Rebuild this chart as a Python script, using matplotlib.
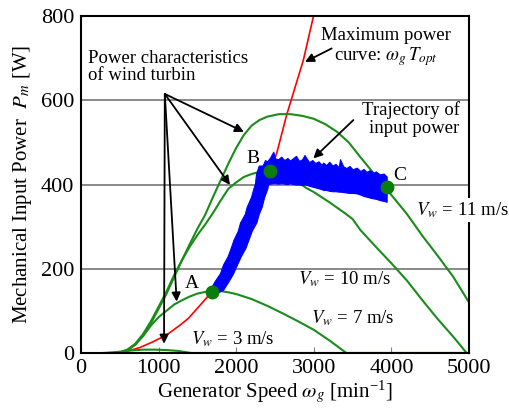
import matplotlib
matplotlib.use("Agg")
import matplotlib.pyplot as plt

plt.rcParams['font.family'] = ['Liberation Serif', 'DejaVu Serif']
plt.rcParams['mathtext.fontset'] = 'stix'

# ---------------- data ----------------
rpm_11 = [500, 600, 700, 800, 900, 1000, 1100, 1200, 1300, 1400, 1500, 1600, 1700, 1800,
          1900, 2000, 2100, 2200, 2300, 2400, 2550, 2700, 2850, 3000, 3150, 3300, 3450,
          3600, 3800, 4000, 4200, 4400, 4600, 4800, 5000]
pw_11 = [0, 6, 20, 42, 70, 105, 140, 180, 220, 258, 295, 328, 370, 410,
         450, 487, 518, 540, 553, 561, 567, 567, 563, 556, 543, 525, 500,
         465, 420, 375, 330, 278, 230, 180, 120]

rpm_10 = [480, 600, 700, 800, 900, 1000, 1100, 1200, 1300, 1400, 1500, 1600, 1700, 1800,
          1900, 2000, 2100, 2200, 2300, 2450, 2600, 2750, 2900, 3000, 3200, 3400, 3500,
          3600, 3800, 4000, 4200, 4400, 4600, 4800, 4970, 5000]
pw_10 = [0, 8, 22, 45, 75, 110, 145, 185, 220, 252, 280, 305, 332, 362,
         390, 405, 418, 425, 430, 432, 427, 412, 392, 382, 358, 332, 318,
         292, 252, 213, 172, 125, 80, 38, 0, 0]

rpm_7 = [480, 600, 700, 800, 900, 1000, 1100, 1200, 1300, 1400, 1500, 1600, 1700,
         1800, 1900, 2000, 2200, 2400, 2600, 2800, 3000, 3200, 3420, 5000]
pw_7 = [0, 8, 20, 40, 65, 85, 100, 115, 125, 134, 141, 145, 147,
        147, 144, 140, 128, 112, 94, 75, 55, 30, 0, 0]

rpm_3 = [280, 380, 500, 650, 800, 950, 1100, 1250, 1420, 5000]
pw_3 = [0, 1, 3, 6, 8, 8, 7, 5, 0, 0]

rpm_max = [0, 300, 500, 650, 760, 932, 1104, 1275, 1383, 1576, 1684, 1900, 2100,
           2300, 2435, 2522, 2650, 2865, 2994, 3050]
pw_max = [0, 0, 2, 7, 13, 27, 43, 66, 82, 122, 145, 210, 280,
          370, 431, 474, 565, 695, 798, 850]

# rising part of the input-power trajectory (band edges vs power)
rise_pw = [140, 150, 170, 189, 210, 230, 250, 268, 290, 310, 330, 347, 370, 390, 403, 425, 445]
rise_left = [1640, 1662, 1720, 1790, 1830, 1890, 1930, 1963, 2020, 2050, 2110, 2135,
             2190, 2220, 2242, 2255, 2290]
rise_right = [1720, 1830, 1900, 1960, 2010, 2060, 2120, 2156, 2200, 2260, 2290, 2328,
              2360, 2400, 2414, 2460, 2500]

# flat part of the trajectory (band edges vs speed)
flat_rpm = [2330, 2371, 2400, 2440, 2478, 2500, 2540, 2580, 2620, 2660, 2693, 2730,
            2770, 2810, 2850, 2880, 2908, 2940, 2980, 3020, 3060, 3100, 3123, 3160,
            3200, 3240, 3280, 3320, 3338, 3380, 3420, 3460, 3500, 3553, 3600, 3640,
            3680, 3720, 3767, 3800, 3850, 3900, 3939]
flat_up = [440, 458, 455, 465, 478, 462, 460, 466, 458, 463, 457, 462,
           468, 456, 460, 470, 462, 453, 458, 451, 455, 447, 452, 446,
           454, 445, 449, 441, 460, 443, 439, 444, 436, 440, 432, 437,
           430, 434, 428, 431, 424, 426, 419]
flat_lo = [395, 400, 401, 402, 403, 403, 402, 403, 402, 401, 403, 401,
           400, 400, 399, 400, 399, 397, 395, 393, 391, 389, 387, 387,
           385, 384, 384, 383, 383, 382, 381, 380, 380, 379, 376, 373,
           371, 369, 367, 366, 363, 361, 359]

points_rpm = [1684, 2435, 3940]
points_pw = [145, 431, 395]

x_ticks = [0, 1000, 2000, 3000, 4000, 5000]
y_ticks = [0, 200, 400, 600, 800]

GREEN = '#1a8c1a'
# ---------------- figure ----------------
fig = plt.figure(figsize=(5.09, 4.13), dpi=100)
ax = fig.add_axes([81 / 509, 60 / 413, 388 / 509, 337 / 413])
ax.set_xlim(0, 5000)
ax.set_ylim(0, 800)

for y in [200, 400, 600]:
    ax.axhline(y, color='#808080', lw=1.3, zorder=0.5)

ax.plot(rpm_max, pw_max, color='#ff0000', lw=1.2, zorder=2)
for xs, ys in [(rpm_11, pw_11), (rpm_10, pw_10), (rpm_7, pw_7), (rpm_3, pw_3)]:
    ax.plot(xs, ys, color=GREEN, lw=1.5, zorder=3)

ax.fill_betweenx(rise_pw, rise_left, rise_right, color='#0000ff', lw=0.8,
                 edgecolor='#0000ff', zorder=4)
ax.fill_between(flat_rpm, flat_lo, flat_up, color='#0000ff', lw=0.8,
                edgecolor='#0000ff', zorder=4)

ax.plot(points_rpm, points_pw, 'o', color='#0a7d0a', ms=9, zorder=6)

ax.text(1430, 165, "A", fontsize=14, ha='center', va='center', zorder=7)
ax.text(2210, 462, "B", fontsize=14, ha='center', va='center', zorder=7)
ax.text(4110, 422, "C", fontsize=14, ha='center', va='center', zorder=7)

arrow = dict(arrowstyle='-|>', color='black', lw=1.3, mutation_scale=13,
             shrinkA=0, shrinkB=0)
src = (1080, 615)
for tip in [(2100, 525), (1920, 399), (1233, 122), (1070, 22)]:
    ax.annotate("", xy=tip, xytext=src, arrowprops=arrow, zorder=8)

ax.text(90, 680, "Power characteristics\nof wind turbin", fontsize=13.5,
        ha='left', va='center', linespacing=1.0, zorder=7)

ax.text(3930, 725, "Maximum power\ncurve: $\\omega_g\\, T_{opt}$", fontsize=13.5,
        ha='center', va='center', linespacing=1.05, zorder=7)
ax.annotate("", xy=(2887, 691), xytext=(3230, 723), arrowprops=arrow, zorder=8)

ax.text(4880, 555, "Trajectory of\ninput power", fontsize=13.5,
        ha='right', va='center', linespacing=1.05, zorder=7)
ax.annotate("", xy=(2994, 462), xytext=(3510, 553), arrowprops=arrow, zorder=8)

wbox = dict(facecolor='white', edgecolor='none', pad=1.5)
ax.text(4920, 339, "$V_w$ = 11 m/s", fontsize=13.5, ha='center', va='center',
        bbox=wbox, clip_on=False, zorder=9)
ax.text(3400, 175, "$V_w$ = 10 m/s", fontsize=13.5, ha='center', va='center', zorder=7)
ax.text(3500, 83, "$V_w$ = 7 m/s", fontsize=13.5, ha='center', va='center', zorder=7)
ax.text(1960, 33, "$V_w$ = 3 m/s", fontsize=13.5, ha='center', va='center', zorder=7)

ax.set_xticks(x_ticks)
ax.set_yticks(y_ticks)
ax.tick_params(axis='both', direction='in', labelsize=16, color='#808080')
ax.tick_params(axis='y', length=0, pad=5)
ax.tick_params(axis='x', length=4, pad=4)
for s in ax.spines.values():
    s.set_linewidth(1.5)
    s.set_color('black')
    s.set_zorder(5)

ax.set_xlabel("Generator Speed $\\omega_g$ [min$^{\\mathregular{-1}}$]", fontsize=15, labelpad=1)
ax.set_ylabel("Mechanical Input Power  $P_m$ [W]", fontsize=15, labelpad=5)

fig.savefig("out.png", dpi=100)
